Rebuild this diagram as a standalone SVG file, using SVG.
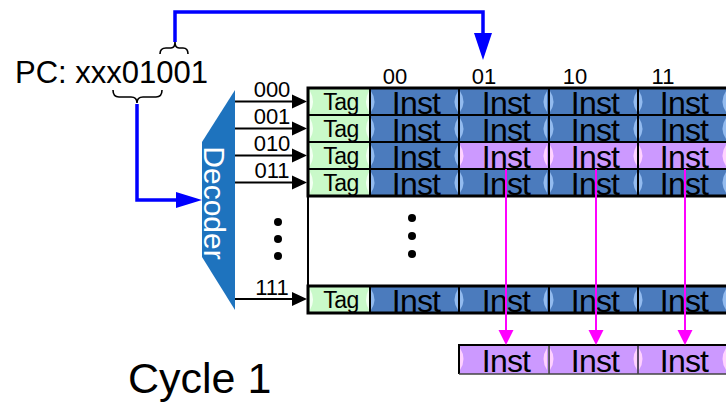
<svg xmlns="http://www.w3.org/2000/svg" xmlns:xlink="http://www.w3.org/1999/xlink" width="726" height="406" viewBox="0 0 726 406">
<style>
.t{font-family:"Liberation Sans",Arial,sans-serif;fill:#000}
.inst{font-size:32px;letter-spacing:-0.8px;text-anchor:middle}
.tag{font-size:23px;letter-spacing:-0.5px;text-anchor:middle}
.bits{font-size:22px;text-anchor:middle}
.grid{stroke:#000;stroke-width:2;fill:none}
.frame{stroke:#000;stroke-width:3;fill:none}
.blue{stroke:#0000ff;stroke-width:3.5;fill:none}
.mag{stroke:#ff00ff;stroke-width:2;fill:none}
.brace{stroke:#000;stroke-width:1.6;fill:none}
</style>
<defs>
<g id="cb"><rect width="89" height="27" fill="#4b7bbd"/><path d="M1,3 Q8,13.5 1,24 Z" fill="#93bbef"/><path d="M88,3 Q81,13.5 88,24 Z" fill="#93bbef"/></g>
<g id="cp"><rect width="89" height="27" fill="#cc99ff"/><path d="M1,3 Q8,13.5 1,24 Z" fill="#ffd2ff"/><path d="M88,3 Q81,13.5 88,24 Z" fill="#ffd2ff"/></g>
<g id="cg"><rect width="61" height="27" fill="#c9f9c9"/><path d="M1,3 Q7,13.5 1,24 Z" fill="#f2fff2"/><path d="M60,3 Q54,13.5 60,24 Z" fill="#f2fff2"/></g>
<g id="cp30"><rect width="89" height="30" fill="#cc99ff"/><path d="M1,4 Q8,15 1,26 Z" fill="#ffd2ff"/><path d="M88,4 Q81,15 88,26 Z" fill="#ffd2ff"/></g>
</defs>

<g id="pc-label">
<text class="t" x="15" y="83" font-size="31">PC: xxx01001</text>
<path class="brace" d="M160,54 Q160,48 166,48 L171,48 Q175,48 175,42 Q175,48 179,48 L183,48 Q188,48 188,54"/>
<path class="brace" d="M113,90 Q113,97 119,97 L131,97 Q137,97 137,103 Q137,97 143,97 L156,97 Q162,97 162,90"/>
</g>

<g id="decoder">
<polygon points="202,142 235,90 235,310 202,257" fill="#1e73be"/>
<text class="t" transform="translate(204,203) rotate(90)" font-size="30" text-anchor="middle" style="fill:#fff">Decoder</text>
</g>

<g id="column-labels">
<text class="t bits" x="395" y="84">00</text>
<text class="t bits" x="484" y="84">01</text>
<text class="t bits" x="575" y="84">10</text>
<text class="t bits" x="663" y="84">11</text>
</g>

<g id="cache">
<use xlink:href="#cg" x="309" y="88"/><use xlink:href="#cb" x="370" y="88"/><use xlink:href="#cb" x="459" y="88"/><use xlink:href="#cb" x="549" y="88"/><use xlink:href="#cb" x="638" y="88"/>
<use xlink:href="#cg" x="309" y="115"/><use xlink:href="#cb" x="370" y="115"/><use xlink:href="#cb" x="459" y="115"/><use xlink:href="#cb" x="549" y="115"/><use xlink:href="#cb" x="638" y="115"/>
<use xlink:href="#cg" x="309" y="142"/><use xlink:href="#cb" x="370" y="142"/><use xlink:href="#cp" x="459" y="142"/><use xlink:href="#cp" x="549" y="142"/><use xlink:href="#cp" x="638" y="142"/>
<use xlink:href="#cg" x="309" y="169"/><use xlink:href="#cb" x="370" y="169"/><use xlink:href="#cb" x="459" y="169"/><use xlink:href="#cb" x="549" y="169"/><use xlink:href="#cb" x="638" y="169"/>
<use xlink:href="#cg" x="309" y="286"/><use xlink:href="#cb" x="370" y="286"/><use xlink:href="#cb" x="459" y="286"/><use xlink:href="#cb" x="549" y="286"/><use xlink:href="#cb" x="638" y="286"/>

<g class="t tag">
<text x="341" y="110">Tag</text><text x="341" y="137">Tag</text><text x="341" y="164">Tag</text><text x="341" y="191">Tag</text><text x="341" y="308">Tag</text>
</g>
<g class="t inst">
<text x="416" y="114">Inst</text><text x="506" y="114">Inst</text><text x="595" y="114">Inst</text><text x="684" y="114">Inst</text>
<text x="416" y="141">Inst</text><text x="506" y="141">Inst</text><text x="595" y="141">Inst</text><text x="684" y="141">Inst</text>
<text x="416" y="168">Inst</text><text x="506" y="168">Inst</text><text x="595" y="168">Inst</text><text x="684" y="168">Inst</text>
<text x="416" y="195">Inst</text><text x="506" y="195">Inst</text><text x="595" y="195">Inst</text><text x="684" y="195">Inst</text>
<text x="416" y="312">Inst</text><text x="506" y="312">Inst</text><text x="595" y="312">Inst</text><text x="684" y="312">Inst</text>
</g>
<path class="grid" d="M308,115 H726 M308,142 H726 M308,169 H726 M370,88 V196 M459,88 V196 M549,88 V196 M638,88 V196 M370,286 V313 M459,286 V313 M549,286 V313 M638,286 V313 M308,196 V286"/>
<path class="frame" d="M726,88 H308 V196 H726 M726,286 H308 V313 H726"/>
<g fill="#000">
<circle cx="278" cy="222" r="4"/><circle cx="278" cy="239" r="4"/><circle cx="278" cy="256" r="4"/>
<circle cx="412" cy="218" r="4"/><circle cx="412" cy="236" r="4"/><circle cx="412" cy="254" r="4"/>
</g>
</g>

<g id="buffer">
<use xlink:href="#cp30" x="459" y="344"/><use xlink:href="#cp30" x="549" y="344"/><use xlink:href="#cp30" x="638" y="344"/>
<g class="t inst"><text x="506" y="372">Inst</text><text x="595" y="372">Inst</text><text x="684" y="372">Inst</text></g>
<path d="M549,344 V374 M638,344 V374" stroke="#333" stroke-width="1.5" fill="none"/>
<path d="M459,374 V345 H726" stroke="#000" stroke-width="2" fill="none"/>
<path d="M459,374 H726" stroke="#444" stroke-width="1.5" fill="none"/>
</g>

<g id="connectors">
<g stroke="#000" stroke-width="2">
<line x1="235" y1="101.5" x2="294" y2="101.5"/><line x1="235" y1="128.5" x2="294" y2="128.5"/><line x1="235" y1="155.5" x2="294" y2="155.5"/><line x1="235" y1="182.5" x2="294" y2="182.5"/><line x1="235" y1="299" x2="294" y2="299"/>
</g>
<g fill="#000">
<polygon points="292,94.5 307,101.5 292,108.5"/><polygon points="292,121.5 307,128.5 292,135.5"/><polygon points="292,148.5 307,155.5 292,162.5"/><polygon points="292,175.5 307,182.5 292,189.5"/><polygon points="292,292 307,299 292,306"/>
</g>
<g class="t bits">
<text x="272" y="97">000</text><text x="272" y="124">001</text><text x="272" y="151">010</text><text x="272" y="178">011</text><text x="272" y="295">111</text>
</g>
<path class="blue" d="M175,42 V12 H483 V36"/>
<polygon points="474,33 492,33 483,60" fill="#0000ff"/>
<path class="blue" d="M137,104 V200 H180"/>
<polygon points="176,192 176,208 202,200" fill="#0000ff"/>
<path class="mag" d="M506,169 V332 M596,169 V332 M685,169 V332"/>
<g fill="#ff00ff">
<polygon points="498.5,330 513.5,330 506,345"/><polygon points="588.5,330 603.5,330 596,345"/><polygon points="677.5,330 692.5,330 685,345"/>
</g>
</g>

<g id="cycle-label"><text class="t" x="128" y="393" font-size="43">Cycle 1</text></g>
</svg>
